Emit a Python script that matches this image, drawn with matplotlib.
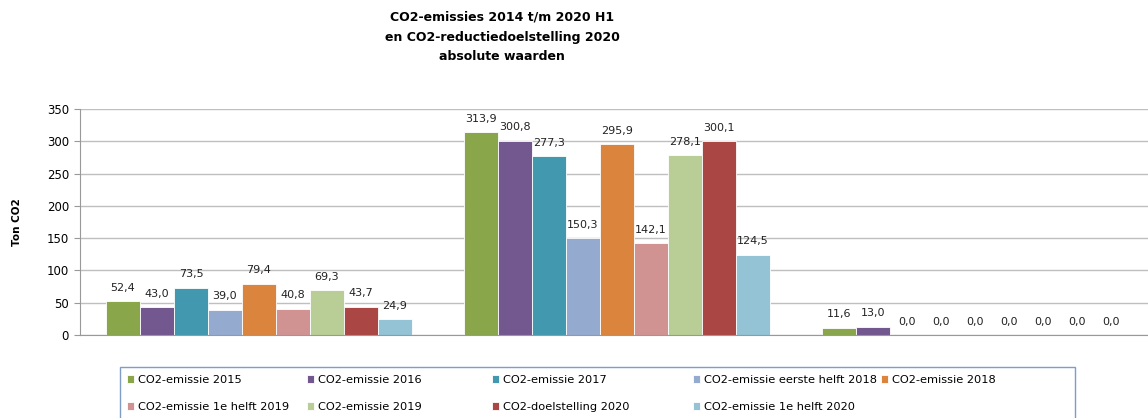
import matplotlib.pyplot as plt
from matplotlib.patches import Rectangle
import numpy as np

# categories on the x axis have no labels in the original
groups = ["", "", ""]

series_names = [
    "CO2-emissie 2015",
    "CO2-emissie 2016",
    "CO2-emissie 2017",
    "CO2-emissie eerste helft 2018",
    "CO2-emissie 2018",
    "CO2-emissie 1e helft 2019",
    "CO2-emissie 2019",
    "CO2-doelstelling 2020",
    "CO2-emissie 1e helft 2020",
]
series_colors = ["#8AA64B", "#72588F", "#4198AF", "#94AACF", "#DB843D",
                 "#D19392", "#B9CD96", "#AA4643", "#93C3D4"]

e2015 = [52.4, 313.9, 11.6]
e2016 = [43.0, 300.8, 13.0]
e2017 = [73.5, 277.3, 0.0]
e2018_h1 = [39.0, 150.3, 0.0]
e2018 = [79.4, 295.9, 0.0]
e2019_h1 = [40.8, 142.1, 0.0]
e2019 = [69.3, 278.1, 0.0]
doel2020 = [43.7, 300.1, 0.0]
e2020_h1 = [24.9, 124.5, 0.0]
all_series = [e2015, e2016, e2017, e2018_h1, e2018, e2019_h1, e2019, doel2020, e2020_h1]

yticks = [0, 50, 100, 150, 200, 250, 300, 350]

W, H = 1148, 418
fig = plt.figure(figsize=(W / 100, H / 100), dpi=100)
# plot area runs past the right edge like in the screenshot
ax = fig.add_axes([80 / W, 83 / H, 1074 / W, 226 / H])

x = np.arange(len(groups))
n = len(all_series)
bw = 0.855 / n
handles = []
for i, (vals, col) in enumerate(zip(all_series, series_colors)):
    pos = x - 0.855 / 2 + bw * (i + 0.5)
    bars = ax.bar(pos, vals, width=bw, color=col, edgecolor="white", linewidth=0.6)
    labels = [f"{v:.1f}".replace(".", ",") for v in vals]
    ax.bar_label(bars, labels=labels, padding=6, fontsize=8, color="#222222")
    handles.append(bars)

ax.set_xlim(-0.5, 2.5)
ax.set_ylim(0, 350)
ax.set_yticks(yticks)
ax.tick_params(axis="y", labelsize=8.5, length=4, color="#999999", pad=4)
ax.set_xticks([])
ax.grid(axis="y", color="#BFBFBF", linewidth=1)
ax.set_axisbelow(True)
for s in ["top", "right"]:
    ax.spines[s].set_visible(False)
ax.spines["left"].set_color("#999999")
ax.spines["bottom"].set_color("#999999")

fig.text(17 / W, 1 - 222 / H, "Ton CO2", rotation=90, ha="center", va="center",
         fontsize=7.5, fontweight="bold")

fig.text(502 / W, 1 - 37 / H,
         "CO2-emissies 2014 t/m 2020 H1\nen CO2-reductiedoelstelling 2020\nabsolute waarden",
         ha="center", va="center", fontsize=9, fontweight="bold", linespacing=1.7)

# legend frame
fig.patches.append(Rectangle((120 / W, -0.05), 955 / W, 0.05 + (418 - 367) / H,
                             transform=fig.transFigure, fill=False,
                             edgecolor="#7F9DC7", linewidth=1))

# one legend per column so the columns sit where Excel put them
columns = [[0, 5], [1, 6], [2, 7], [3, 8], [4]]
col_x = [127, 307, 492, 693, 881]
for idx, cx in zip(columns, col_x):
    fig.legend([handles[k] for k in idx], [series_names[k] for k in idx],
               loc="upper left", bbox_to_anchor=(cx / W, 1 - 375 / H),
               frameon=False, fontsize=8.2,
               handlelength=0.65, handleheight=0.65, handletextpad=0.3,
               labelspacing=1.5, borderpad=0, borderaxespad=0)

fig.savefig("out.png", dpi=100)
